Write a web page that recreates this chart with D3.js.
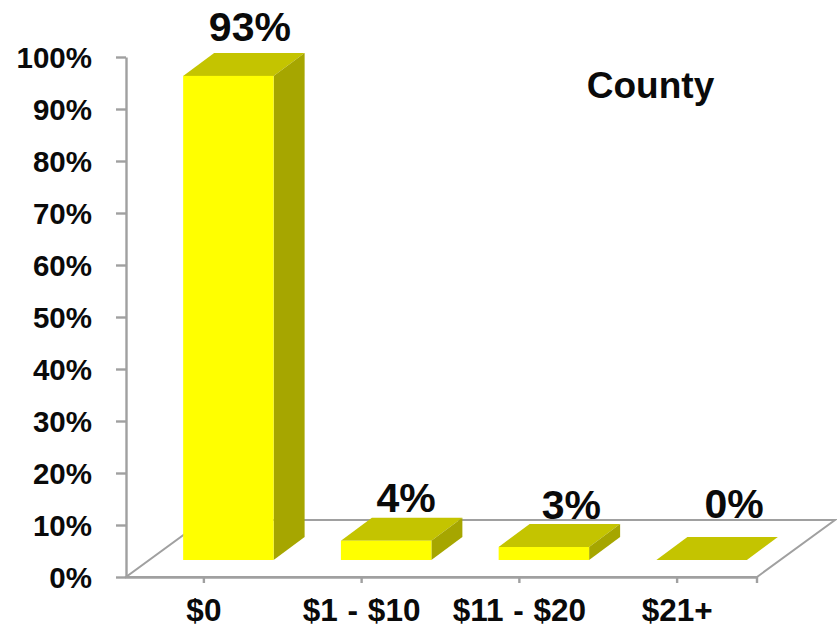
<!DOCTYPE html>
<html><head><meta charset="utf-8">
<script src="https://cdn.jsdelivr.net/npm/d3@7"></script>
<style>html,body{margin:0;padding:0;background:#fff}svg{display:block}text{font-family:"Liberation Sans",Arial,sans-serif;font-weight:bold;fill:#0a0a0a}</style>
</head><body><svg id="c" width="837" height="629"></svg>
<script>
const categories = ["$0","$1 - $10","$11 - $20","$21+"];
const barHeights = [93.1,3.7,2.5,0];
const dataLabels = ["93%","4%","3%","0%"];
const yTicks = [0,10,20,30,40,50,60,70,80,90,100];
const chartTitle = "County";

const svg=d3.select("#c");
const axisColor="#a0a0a0";
const plot={l:126,r:757,b:577,t:57};
const floorDx=78,floorDy=57,barDx=31,barDy=23;
const x=d3.scaleBand().domain(categories).range([plot.l,plot.r]).paddingInner(0.4265).paddingOuter(0.2133);
const y=d3.scaleLinear().domain([0,100]).range([plot.b,plot.t]);
const inset=[(floorDx-barDx)/2,(floorDy-barDy)/2];
const h=v=>y(v)-inset[1];

// floor
const floor=[[plot.l,plot.b],[plot.r,plot.b],[plot.r+floorDx,plot.b-floorDy],[plot.l+floorDx,plot.b-floorDy]];
svg.append("path").attr("d",d3.line()(floor)+"Z").attr("fill","#fff").attr("stroke",axisColor).attr("stroke-width",2);

// y axis
const ya=svg.append("g").attr("transform",`translate(${plot.l},0)`)
 .call(d3.axisLeft(y).tickValues(yTicks).tickFormat(d=>d+"%").tickSize(10).tickSizeOuter(0).tickPadding(24));
ya.selectAll("path,line").attr("stroke",axisColor).attr("stroke-width",2.4);
ya.selectAll("text").style("font-size","29.5px").attr("fill","#0a0a0a").attr("dy","0.34em").attr("font-family",null);

// x axis
const xa=svg.append("g").attr("transform",`translate(-1,${plot.b})`)
 .call(d3.axisBottom(x).tickSize(6).tickSizeOuter(0).tickPadding(15.5));
xa.selectAll("path,line").attr("stroke",axisColor).attr("stroke-width",2.4);
xa.selectAll("text").style("font-size","31.5px").style("word-spacing","1px").attr("fill","#0a0a0a").attr("font-family",null);
xa.append("line").attr("x1",plot.r+1).attr("x2",plot.r+1).attr("y1",0).attr("y2",6).attr("stroke",axisColor).attr("stroke-width",2.4);

// bars
const bars=svg.append("g").selectAll("g").data(categories).join("g");
const bw=x.bandwidth();
const X=d=>x(d)+inset[0];
const line=d3.line();
bars.append("path").attr("fill","#c4c400").attr("d",(d,i)=>{const l=X(d),t=h(barHeights[i]);
  return line([[l,t],[l+bw,t],[l+bw+barDx,t-barDy],[l+barDx,t-barDy]])+"Z";});
bars.filter((d,i)=>barHeights[i]>0).append("path").attr("fill","#a6a600").attr("d",d=>{const i=categories.indexOf(d),l=X(d)+bw,t=h(barHeights[i]),b=h(0);
  return line([[l,t],[l+barDx,t-barDy],[l+barDx,b-barDy],[l,b]])+"Z";});
bars.filter((d,i)=>barHeights[i]>0).append("rect").attr("fill","#ffff00").attr("x",X).attr("width",bw)
  .attr("y",d=>h(barHeights[categories.indexOf(d)])).attr("height",d=>h(0)-h(barHeights[categories.indexOf(d)]));

// data labels: offset from the bar's front-top centre
const labelDx=[21.5,20,27.5,32.5];
const labelDy=[-35,-29,-28,-42];
svg.append("g").selectAll("text").data(dataLabels).join("text")
 .attr("text-anchor","middle").style("font-size","41px")
 .attr("x",(d,i)=>X(categories[i])+bw/2+labelDx[i]).attr("y",(d,i)=>h(barHeights[i])+labelDy[i]).text(d=>d);

svg.append("text").attr("x",650.5).attr("y",98).attr("text-anchor","middle").style("font-size","37px").text(chartTitle);
</script></body></html>
